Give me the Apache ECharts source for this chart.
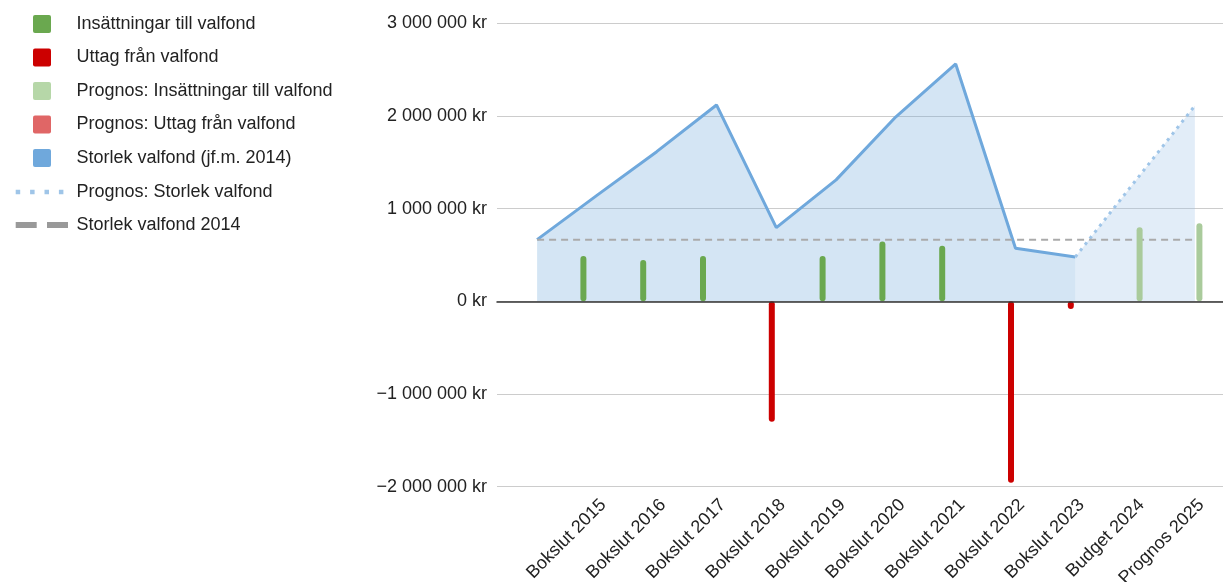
<!DOCTYPE html>
<html>
<head>
<meta charset="utf-8">
<script src="https://cdn.jsdelivr.net/npm/echarts@6/dist/echarts.min.js"></script>
<style>
  html, body { margin: 0; padding: 0; background: #fff; }
  #chart { width: 1223px; height: 582px; }
</style>
</head>
<body>
<div id="chart"></div>
<script>
// ---- data ----
const categories = ['', 'Bokslut 2015', 'Bokslut 2016', 'Bokslut 2017', 'Bokslut 2018', 'Bokslut 2019',
  'Bokslut 2020', 'Bokslut 2021', 'Bokslut 2022', 'Bokslut 2023', 'Budget 2024', 'Prognos 2025'];
const insattningar = [null, 490000, 445000, 490000, null, 490000, 645000, 600000, null, null, null, null];
const uttag = [null, null, null, null, -1300000, null, null, null, -1957000, -83000, null, null];
const prognosInsattningar = [null, null, null, null, null, null, null, null, null, null, 798000, 841000];
const prognosUttag = [null, null, null, null, null, null, null, null, null, null, null, null];
const storlek = [665000, 1143000, 1614000, 2118000, 794000, 1310000, 1990000, 2560000, 572000, 478000, null, null];
const prognosStorlek = [null, null, null, null, null, null, null, null, null, 478000, 1295000, 2110000];
const storlek2014 = [665000, 665000, 665000, 665000, 665000, 665000, 665000, 665000, 665000, 665000, 665000, 665000];
const yTicks = [-2000000, -1000000, 0, 1000000, 2000000, 3000000];
const yTickLabels = ['\u22122\u00a0000\u00a0000 kr', '\u22121\u00a0000\u00a0000 kr', '0 kr',
  '1\u00a0000\u00a0000 kr', '2\u00a0000\u00a0000 kr', '3\u00a0000\u00a0000 kr'];

const names = ['Insättningar till valfond', 'Uttag från valfond', 'Prognos: Insättningar till valfond',
  'Prognos: Uttag från valfond', 'Storlek valfond (jf.m. 2014)', 'Prognos: Storlek valfond', 'Storlek valfond 2014'];

const FONT = "'Liberation Sans', Arial, sans-serif";
const TXT = '#222222';
const cGreen = '#6aa84f', cRed = '#cc0000', cLGreen = '#aacb9c', cLRed = '#e06666';
const cBlue = '#6fa8dc', cLBlue = '#9fc5e8', cGray = '#aaaaaa';
const SQ = 'path://M2,0h14a2,2 0 0 1 2,2v14a2,2 0 0 1 -2,2h-14a2,2 0 0 1 -2,-2v-14a2,2 0 0 1 2,-2z';

const chart = echarts.init(document.getElementById('chart'), null, { renderer: 'canvas' });

const gridTop = 23.2, gridH = 463.5;
const barCommon = { type: 'bar', xAxisIndex: 1, yAxisIndex: 1, barWidth: 6, barGap: '50%' };

const option = {
  animation: false,
  backgroundColor: '#ffffff',
  textStyle: { fontFamily: FONT },
  grid: [
    { left: 497, top: gridTop, width: 726, height: gridH, containLabel: false, outerBoundsMode: 'none' },
    { left: 507.2, top: gridTop, width: 717.6, height: gridH, containLabel: false, outerBoundsMode: 'none' }
  ],
  legend: [
    {
      orient: 'vertical', left: 28, top: 10, itemWidth: 18, itemHeight: 18, itemGap: 15.5,
      selectedMode: false,
      textStyle: { color: TXT, fontSize: 18, fontFamily: FONT, padding: [0, 0, 0, 20.4] },
      data: [
        { name: names[0], icon: SQ, itemStyle: { color: cGreen } },
        { name: names[1], icon: SQ, itemStyle: { color: cRed } },
        { name: names[2], icon: SQ, itemStyle: { color: '#b6d7a8' } },
        { name: names[3], icon: SQ, itemStyle: { color: cLRed } },
        { name: names[4], icon: SQ, itemStyle: { color: cBlue } }
      ]
    },
    {
      orient: 'vertical', left: 10.7, top: 178, itemWidth: 47.7, itemHeight: 18,
      selectedMode: false,
      textStyle: { color: TXT, fontSize: 18, fontFamily: FONT, padding: [0, 0, 0, 8] },
      data: [
        { name: names[5], icon: 'path://M0,0h4.5v4.5h-4.5z M14.4,0h4.5v4.5h-4.5z M28.8,0h4.5v4.5h-4.5z M43.2,0h4.5v4.5h-4.5z',
          itemStyle: { color: cLBlue, borderWidth: 0 } }
      ]
    },
    {
      orient: 'vertical', left: 10.7, top: 211, itemWidth: 52.3, itemHeight: 18,
      selectedMode: false,
      textStyle: { color: TXT, fontSize: 18, fontFamily: FONT, padding: [0, 0, 0, 3.4] },
      data: [
        { name: names[6], icon: 'path://M0,0h21v6h-21z M31.3,0h21v6h-21z',
          itemStyle: { color: '#999999', borderWidth: 0 } }
      ]
    }
  ],
  xAxis: [
    {
      gridIndex: 0, type: 'category', data: categories, z: 5,
      axisLine: { show: true, onZero: true, lineStyle: { color: '#333333', width: 1.5 } },
      axisTick: { show: false }, axisLabel: { show: false }, splitLine: { show: false }
    },
    {
      gridIndex: 1, type: 'category', data: categories, boundaryGap: true,
      axisLine: { show: false }, axisTick: { show: false }, splitLine: { show: false },
      axisLabel: { interval: 0, rotate: 45, margin: 9, verticalAlign: 'top', color: TXT, fontSize: 18, fontFamily: FONT }
    }
  ],
  yAxis: [
    {
      gridIndex: 0, type: 'value', min: -2000000, max: 3000000, interval: 1000000,
      axisLine: { show: false }, axisTick: { show: false },
      splitLine: { lineStyle: { color: '#cccccc', width: 1 } },
      axisLabel: {
        margin: 10, color: TXT, fontSize: 18, fontFamily: FONT,
        formatter: function (v) { const i = yTicks.indexOf(v); return i >= 0 ? yTickLabels[i] : ''; }
      }
    },
    {
      gridIndex: 1, type: 'value', min: -2000000, max: 3000000, interval: 1000000, show: false,
      splitLine: { show: false }
    }
  ],
  series: [
    Object.assign({}, barCommon, { name: names[0], data: insattningar, itemStyle: { color: cGreen, borderRadius: 3 }, z: 4 }),
    Object.assign({}, barCommon, { name: names[1], data: uttag, itemStyle: { color: cRed, borderRadius: 3 }, z: 4 }),
    Object.assign({}, barCommon, { name: names[2], data: prognosInsattningar, itemStyle: { color: cLGreen, borderRadius: 3 }, z: 4 }),
    Object.assign({}, barCommon, { name: names[3], data: prognosUttag, itemStyle: { color: cLRed, borderRadius: 3 }, z: 4 }),
    {
      name: names[4], type: 'line', xAxisIndex: 1, yAxisIndex: 1, data: storlek,
      symbol: 'none', z: 3, connectNulls: false,
      lineStyle: { color: cBlue, width: 3 }, itemStyle: { color: cBlue },
      areaStyle: { color: cBlue, opacity: 0.3, origin: 0 }
    },
    {
      name: names[5], type: 'line', xAxisIndex: 1, yAxisIndex: 1, data: prognosStorlek,
      symbol: 'none', z: 3, connectNulls: false,
      lineStyle: { color: cLBlue, width: 3, type: [3, 4.8] }, itemStyle: { color: cLBlue },
      areaStyle: { color: cLBlue, opacity: 0.3, origin: 0 }
    },
    {
      name: names[6], type: 'line', xAxisIndex: 1, yAxisIndex: 1, data: storlek2014,
      symbol: 'none', z: 3,
      lineStyle: { color: cGray, width: 2, type: [7, 5] }, itemStyle: { color: cGray }
    }
  ]
};
chart.setOption(option);
</script>
</body>
</html>
